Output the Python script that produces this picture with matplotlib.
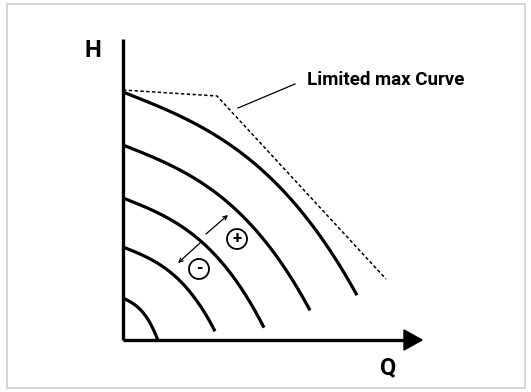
import numpy as np
import matplotlib.pyplot as plt
from matplotlib.patches import Circle, Rectangle, Polygon

plt.rcParams['font.family'] = ['Roboto', 'DejaVu Sans']

# pump curves H = H0 * (1 - a*u - b*u^3), u = Q / q_scale, drawn up to q_end
shut_off_head = [24.8, 19.5, 14.2, 9.3, 4.2]
q_scale = [24.8, 19.5, 14.2, 9.3, 3.36]
q_end = [23.4, 18.7, 14.1, 9.2, 3.6]
shape_a = 0.394
shape_b = 0.533

# limited max curve (dotted)
limit_q = [0.0, 9.4, 26.3]
limit_h = [25.0, 24.4, 6.1]

# leader line to the label
leader_q = [11.5, 17.2]
leader_h = [23.2, 25.6]

# speed change arrows and +/- markers
arrow_up = [(8.3, 10.6), (10.5, 12.5)]
arrow_down = [(7.7, 9.7), (5.5, 7.7)]
plus_pos = (11.4, 10.1)
minus_pos = (7.6, 7.1)

q_axis_end = 29.9
h_axis_end = 30.1

fig = plt.figure(figsize=(5.31, 3.92), dpi=100)
ax = fig.add_axes([0, 0, 1, 1])
ax.set_xlim(-12.3, 40.8)
ax.set_ylim(-5.2, 34.0)
ax.axis('off')

# frame around the figure
fig.patches.append(Rectangle((7 / 531, 4 / 392), 518 / 531, 384 / 392,
                             transform=fig.transFigure, fill=False,
                             edgecolor='#cfcfcf', linewidth=1.2))

# axes
ax.plot([0, 0], [0, h_axis_end], color='black', lw=2.4, solid_capstyle='butt')
ax.plot([0, q_axis_end - 1.6], [0, 0], color='black', lw=2.4, solid_capstyle='butt')
ax.add_patch(Polygon([(q_axis_end - 1.8, 1.0), (q_axis_end, 0), (q_axis_end - 1.8, -1.0)],
                     closed=True, color='black'))
ax.text(-3.0, 29.0, 'H', fontsize=17, fontweight='bold', ha='center', va='center')
ax.text(26.5, -2.8, 'Q', fontsize=17, fontweight='bold', ha='center', va='center')

# curves
for h0, qs, qe in zip(shut_off_head, q_scale, q_end):
    q = np.linspace(0, qe, 200)
    u = q / qs
    h = h0 * (1 - shape_a * u - shape_b * u ** 3)
    ax.plot(q, np.clip(h, 0, None), color='black', lw=2.3, solid_capstyle='butt')

ax.plot(limit_q, limit_h, color='black', lw=1.1, linestyle=(0, (2.2, 1.6)))
ax.plot(leader_q, leader_h, color='black', lw=0.9)
ax.text(18.4, 26.0, 'Limited max Curve', fontsize=13.5, fontweight='bold',
        ha='left', va='center')

for (a, b) in (arrow_up, arrow_down):
    ax.annotate('', xy=b, xytext=a,
                arrowprops=dict(arrowstyle='->', color='black', lw=0.9,
                                mutation_scale=7, shrinkA=0, shrinkB=0))

for pos, sign in ((plus_pos, '+'), (minus_pos, '-')):
    ax.add_patch(Circle(pos, 1.0, fill=False, edgecolor='black', lw=1.3))
    ax.text(pos[0], pos[1] + 0.05, sign, fontsize=12, fontweight='bold',
            ha='center', va='center')

fig.savefig('out.png', dpi=100)
